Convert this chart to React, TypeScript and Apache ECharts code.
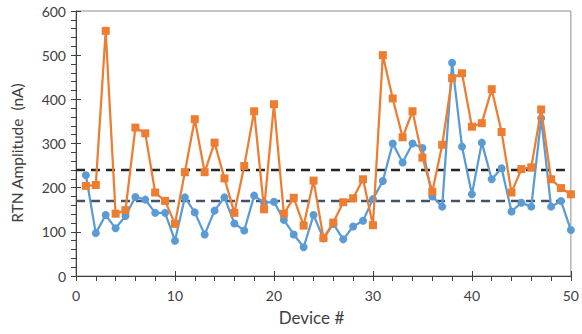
import React, { useEffect, useRef } from "react";
import * as echarts from "echarts";

const devices = Array.from({ length: 50 }, (_, i) => i + 1);
const blueValues = [228, 97, 138, 108, 136, 179, 173, 143, 143, 80, 178, 144, 94, 148, 178, 119, 103, 182, 166, 168, 127, 94, 65, 138, 85, 118, 83, 112, 125, 174, 215, 300, 257, 300, 290, 180, 157, 483, 293, 185, 302, 219, 244, 146, 166, 157, 357, 157, 170, 104];
const orangeValues = [204, 206, 555, 141, 149, 336, 323, 189, 170, 118, 235, 355, 235, 302, 221, 143, 249, 373, 151, 389, 141, 177, 114, 216, 86, 121, 167, 176, 219, 115, 500, 402, 314, 373, 268, 191, 297, 448, 459, 338, 346, 423, 326, 189, 242, 246, 377, 219, 199, 185];
const upperRef = 240;
const lowerRef = 170;
const upperRefX = [0, 49.4];
const lowerRefX = [0, 49.8];
const xTicks = [0, 10, 20, 30, 40, 50];
const yTicks = [0, 100, 200, 300, 400, 500, 600];
const yTitle = "RTN Amplitude  (nA)";
const xTitle = "Device #";

const FONT = "Lato, 'Open Sans', sans-serif";

export default function App() {
  const ref = useRef<HTMLDivElement>(null);
  useEffect(() => {
    if (!ref.current) return;
    const chart = echarts.init(ref.current, undefined, { renderer: "svg" });
    const axisLabel = { color: "#404040", fontSize: 14, fontFamily: FONT };
    chart.setOption({
      animation: false,
      grid: { left: 76, right: 9, top: 11, bottom: 58, show: true, borderColor: "#8c8c8c", borderWidth: 1 },
      graphic: [
        {
          type: "text",
          x: 17,
          y: 153,
          rotation: Math.PI / 2,
          style: {
            text: yTitle,
            fill: "#404040",
            fontSize: 15.5,
            fontFamily: FONT,
            align: "center",
            verticalAlign: "middle",
          },
        },
      ],
      xAxis: [
        {
          type: "value",
          min: xTicks[0],
          max: xTicks[xTicks.length - 1],
          interval: 10,
          name: xTitle,
          nameLocation: "middle",
          nameGap: 33,
          nameTextStyle: { color: "#404040", fontSize: 17, fontFamily: FONT, padding: [0, 24, 0, 0] },
          axisLine: { show: true, lineStyle: { color: "#404040", width: 1 } },
          axisTick: { show: true, length: 5, lineStyle: { color: "#404040" } },
          minorTick: { show: true, splitNumber: 5, length: 5, lineStyle: { color: "#404040" } },
          splitLine: { show: false },
          axisLabel: { ...axisLabel, margin: 12 },
        },
        {
          type: "value",
          min: 0,
          max: 50,
          interval: 10,
          position: "bottom",
          axisLine: { show: false },
          axisTick: { show: true, inside: true, length: 5, lineStyle: { color: "#404040" } },
          axisLabel: { show: false },
          splitLine: { show: false },
        },
      ],
      yAxis: [
        {
          type: "value",
          min: yTicks[0],
          max: yTicks[yTicks.length - 1],
          interval: 100,
          axisLine: { show: true, lineStyle: { color: "#404040", width: 1 } },
          axisTick: { show: true, length: 5, lineStyle: { color: "#404040" } },
          minorTick: { show: true, splitNumber: 5, length: 5, lineStyle: { color: "#404040" } },
          splitLine: { show: false },
          axisLabel: { ...axisLabel, margin: 10 },
        },
        {
          type: "value",
          min: 0,
          max: 600,
          interval: 100,
          position: "left",
          axisLine: { show: false },
          axisTick: { show: true, inside: true, length: 5, lineStyle: { color: "#404040" } },
          axisLabel: { show: false },
          splitLine: { show: false },
        },
      ],
      series: [
        {
          type: "line",
          data: upperRefX.map((x) => [x, upperRef]),
          symbol: "none",
          lineStyle: { color: "#262626", width: 2.5, type: [9, 6] },
          z: 1,
        },
        {
          type: "line",
          data: lowerRefX.map((x) => [x, lowerRef]),
          symbol: "none",
          lineStyle: { color: "#44546A", width: 2.5, type: [9, 6] },
          z: 1,
        },
        {
          type: "line",
          data: devices.map((d, i) => [d, blueValues[i]]),
          symbol: "circle",
          symbolSize: 8,
          itemStyle: { color: "#5B9BD5" },
          lineStyle: { color: "#5B9BD5", width: 2.25 },
          z: 3,
        },
        {
          type: "line",
          data: devices.map((d, i) => [d, orangeValues[i]]),
          symbol: "rect",
          symbolSize: 8,
          itemStyle: { color: "#ED7D31" },
          lineStyle: { color: "#ED7D31", width: 2.25 },
          z: 4,
        },
      ],
    });
    return () => chart.dispose();
  }, []);
  return <div ref={ref} style={{ width: 582, height: 334, position: "absolute", left: 0, top: 0, background: "#fff" }} />;
}
